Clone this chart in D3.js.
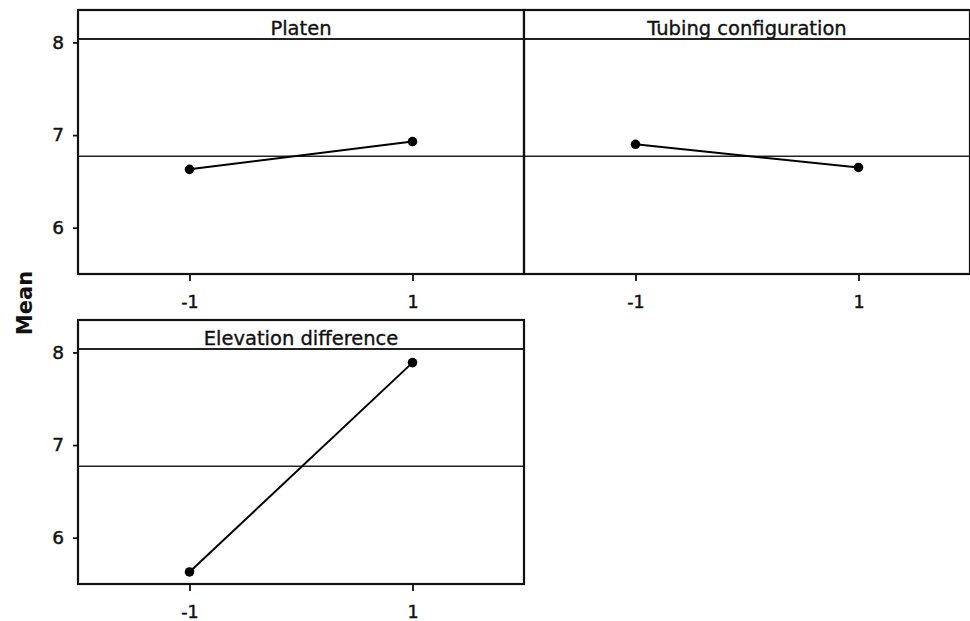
<!DOCTYPE html>
<html>
<head>
<meta charset="utf-8">
<script src="https://cdn.jsdelivr.net/npm/d3@7"></script>
<style>
  html, body { margin: 0; padding: 0; background: #fff; }
  svg { display: block; }
  text { font-family: "DejaVu Sans", Verdana, sans-serif; fill: #111; }
</style>
</head>
<body>
<svg id="chart" width="970" height="621"></svg>
<script>
// ---- data ----
const factors = ["Platen", "Tubing configuration", "Elevation difference"];
const levels = [-1, 1];
const platenMeans = [6.63, 6.93];
const tubingMeans = [6.90, 6.65];
const elevationMeans = [5.63, 7.89];
const grandMean = 6.77;
const yTicks = [6, 7, 8];
const xTickLabels = ["-1", "1"];
const yLabel = "Mean";

const seriesValues = [platenMeans, tubingMeans, elevationMeans];

// ---- layout ----
const panelW = 446, panelH = 264, headerH = 29;
const panelPos = [
  { x: 78, y: 10, yAxis: true },
  { x: 524, y: 10, yAxis: false },
  { x: 78, y: 320, yAxis: true }
];

const svg = d3.select("#chart");

const x = d3.scaleLinear().domain([-2, 2]).range([0, panelW]);
const y = d3.scaleLinear().domain([5.5, 8.35]).range([panelH, 0]);

factors.forEach((name, i) => {
  const p = panelPos[i];
  const g = svg.append("g").attr("transform", `translate(${p.x},${p.y})`);

  // grand mean reference line
  g.append("line")
    .attr("x1", 0).attr("x2", panelW)
    .attr("y1", y(grandMean)).attr("y2", y(grandMean))
    .attr("stroke", "#222").attr("stroke-width", 1.5);

  // data line
  const pts = levels.map((lv, j) => ({ lv, v: seriesValues[i][j] }));
  g.append("path")
    .datum(pts)
    .attr("fill", "none")
    .attr("stroke", "#000")
    .attr("stroke-width", 2)
    .attr("d", d3.line().x(d => x(d.lv)).y(d => y(d.v)));

  g.selectAll("circle.pt")
    .data(pts)
    .join("circle")
    .attr("class", "pt")
    .attr("cx", d => x(d.lv))
    .attr("cy", d => y(d.v))
    .attr("r", 4.8)
    .attr("fill", "#000");

  // header strip
  g.append("rect")
    .attr("x", 0).attr("y", 0)
    .attr("width", panelW).attr("height", headerH)
    .attr("fill", "#fff");
  g.append("line")
    .attr("x1", 0).attr("x2", panelW)
    .attr("y1", headerH).attr("y2", headerH)
    .attr("stroke", "#222").attr("stroke-width", 1.8);
  g.append("text")
    .attr("x", panelW / 2)
    .attr("y", headerH - 4)
    .attr("text-anchor", "middle")
    .attr("font-size", "19.5px")
    .attr("stroke", "#111").attr("stroke-width", 0.35)
    .text(name);

  // frame
  g.append("rect")
    .attr("x", 0).attr("y", 0)
    .attr("width", panelW).attr("height", panelH)
    .attr("fill", "none")
    .attr("stroke", "#111")
    .attr("stroke-width", 2.2);

  // x axis
  const xAxis = g.append("g")
    .attr("transform", `translate(0,${panelH})`)
    .call(d3.axisBottom(x).tickValues(levels)
      .tickFormat((d, k) => xTickLabels[k])
      .tickSize(7).tickPadding(15));
  xAxis.select(".domain").remove();
  xAxis.selectAll(".tick line").attr("stroke", "#111").attr("stroke-width", 1.8);
  xAxis.selectAll(".tick text")
    .attr("font-size", "17.5px")
    .attr("font-family", "DejaVu Sans, Verdana, sans-serif")
    .attr("fill", "#111")
    .attr("stroke", "#111").attr("stroke-width", 0.45);

  // y axis
  if (p.yAxis) {
    const yAxis = g.append("g")
      .call(d3.axisLeft(y).tickValues(yTicks).tickFormat(d3.format("d"))
        .tickSize(5).tickPadding(9));
    yAxis.select(".domain").remove();
    yAxis.selectAll(".tick line").attr("stroke", "#111").attr("stroke-width", 1.8);
    yAxis.selectAll(".tick text")
      .attr("font-size", "18.5px")
      .attr("font-family", "DejaVu Sans, Verdana, sans-serif")
      .attr("fill", "#111")
      .attr("stroke", "#111").attr("stroke-width", 0.45);
  }
});

// y label
svg.append("text")
  .attr("transform", "translate(32,303) rotate(-90)")
  .attr("text-anchor", "middle")
  .attr("font-size", "21px")
  .attr("font-weight", "bold")
  .text(yLabel);
</script>
</body>
</html>
